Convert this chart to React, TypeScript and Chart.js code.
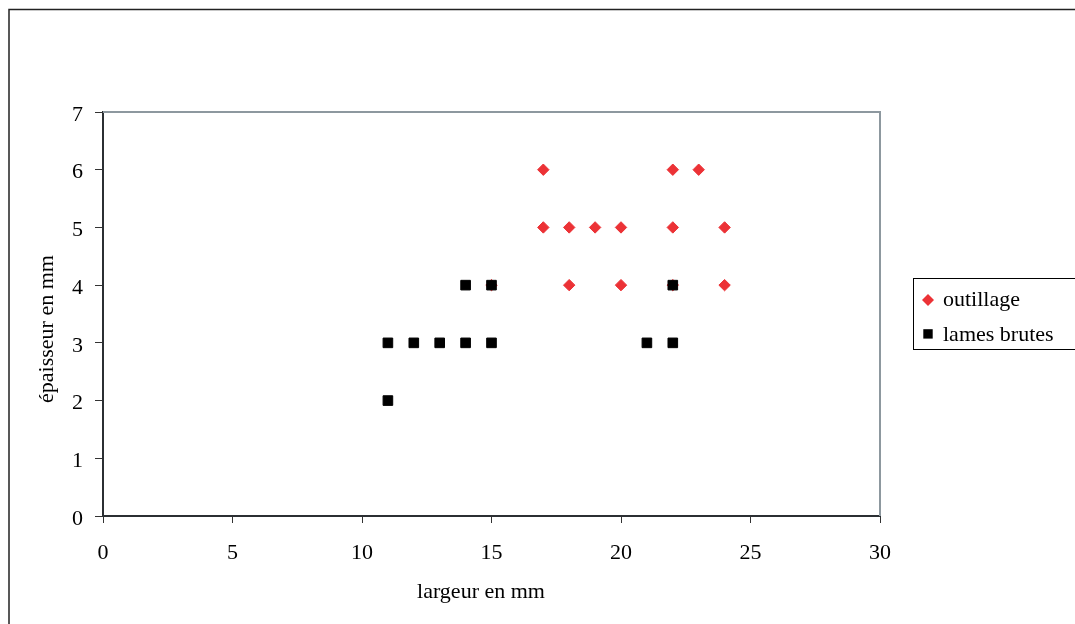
import React, { useEffect, useRef } from "react";
import { Chart, registerables } from "chart.js";

Chart.register(...registerables);

const seriesNames = ["outillage", "lames brutes"];
const outillageX = [15, 17, 17, 18, 19, 20, 18, 20, 22, 23, 22, 24, 22, 24];
const outillageY = [4, 6, 5, 5, 5, 5, 4, 4, 6, 6, 5, 5, 4, 4];
const lamesX = [11, 11, 12, 13, 14, 14, 15, 15, 21, 22, 22];
const lamesY = [3, 2, 3, 3, 3, 4, 3, 4, 3, 3, 4];
const xAxisTitle = "largeur en mm";
const yAxisTitle = "épaisseur en mm";
const xRange = [0, 30];
const yRange = [0, 7];

const RED = "#ec3236";
const BLACK = "#000000";
const FONT = '"Liberation Serif", "Times New Roman", serif';
const FS = 22;

const decor = {
  id: "decor",
  beforeDraw(chart: any) {
    const ctx = chart.ctx;
    ctx.save();
    ctx.fillStyle = "#ffffff";
    ctx.fillRect(0, 0, chart.width, chart.height);
    ctx.restore();
  },
  afterDraw(chart: any) {
    const ctx = chart.ctx;
    const { left, top, right, bottom } = chart.chartArea;
    ctx.save();
    // plot top/right border
    ctx.strokeStyle = "#8d989f";
    ctx.lineWidth = 2;
    ctx.beginPath();
    ctx.moveTo(left, top);
    ctx.lineTo(right, top);
    ctx.lineTo(right, bottom);
    ctx.stroke();
    // outer frame
    ctx.strokeStyle = "#222";
    ctx.lineWidth = 1.5;
    ctx.beginPath();
    ctx.moveTo(9, chart.height + 5);
    ctx.lineTo(9, 9.5);
    ctx.lineTo(chart.width + 5, 9.5);
    ctx.stroke();
    // titles
    ctx.fillStyle = "#000";
    ctx.font = `${FS}px ${FONT}`;
    ctx.textAlign = "center";
    ctx.textBaseline = "middle";
    ctx.fillText(xAxisTitle, 481, 592);
    ctx.save();
    ctx.translate(47, 329);
    ctx.rotate(-Math.PI / 2);
    ctx.fillText(yAxisTitle, 0, 0);
    ctx.restore();
    // legend
    ctx.strokeStyle = "#000";
    ctx.lineWidth = 1;
    ctx.strokeRect(913.5, 278.5, 200, 71);
    const ds = chart.data.datasets;
    // diamond
    ctx.fillStyle = ds[0].backgroundColor;
    ctx.beginPath();
    ctx.moveTo(928 - 6, 300);
    ctx.lineTo(928, 300 - 6);
    ctx.lineTo(928 + 6, 300);
    ctx.lineTo(928, 300 + 6);
    ctx.closePath();
    ctx.fill();
    ctx.fillStyle = ds[1].backgroundColor;
    ctx.fillRect(923.3, 329.2, 9.4, 9.4);
    ctx.fillStyle = "#000";
    ctx.textAlign = "left";
    ctx.fillText(ds[0].label, 943, 300);
    ctx.fillText(ds[1].label, 943, 335);
    ctx.restore();
  },
};

export default function App() {
  const ref = useRef<HTMLCanvasElement>(null);
  useEffect(() => {
    const canvas = ref.current;
    if (!canvas) return;
    const chart = new Chart(canvas, {
      type: "scatter",
      data: {
        datasets: [
          {
            label: seriesNames[0],
            data: outillageX.map((x, i) => ({ x, y: outillageY[i] })),
            pointStyle: "rectRot",
            pointRadius: 5.7,
            pointBorderWidth: 1,
            backgroundColor: RED,
            borderColor: RED,
            order: 1,
          },
          {
            label: seriesNames[1],
            data: lamesX.map((x, i) => ({ x, y: lamesY[i] })),
            pointStyle: "rect",
            pointRadius: 6.8,
            pointBorderWidth: 1,
            backgroundColor: BLACK,
            borderColor: BLACK,
            order: 0,
          },
        ],
      },
      options: {
        animation: false,
        responsive: false,
        devicePixelRatio: 1,
        layout: { padding: { left: 0, top: 112, right: 195, bottom: 0 } },
        plugins: { legend: { display: false }, tooltip: { enabled: false } },
        scales: {
          x: {
            type: "linear",
            min: xRange[0],
            max: xRange[1],
            afterFit(scale: any) {
              scale.height = 108;
            },
            ticks: {
              stepSize: 5,
              padding: 17,
              color: "#000",
              font: { family: FONT, size: FS },
              maxRotation: 0,
            },
            grid: {
              display: true,
              drawOnChartArea: false,
              drawTicks: true,
              tickLength: 7,
              tickColor: "#333",
            },
            border: { display: true, color: "#2b2f33", width: 2 },
          },
          y: {
            type: "linear",
            min: yRange[0],
            max: yRange[1],
            afterFit(scale: any) {
              scale.width = 103;
            },
            ticks: {
              stepSize: 1,
              padding: 12,
              labelOffset: 3,
              color: "#000",
              font: { family: FONT, size: FS },
            },
            grid: {
              display: true,
              drawOnChartArea: false,
              drawTicks: true,
              tickLength: 8,
              tickColor: "#333",
            },
            border: { display: true, color: "#2b2f33", width: 2 },
          },
        },
      },
      plugins: [decor],
    });
    return () => chart.destroy();
  }, []);
  return (
    <div style={{ position: "absolute", left: 0, top: 0, width: 1075, height: 624, overflow: "hidden" }}>
      <canvas ref={ref} width={1075} height={624} style={{ display: "block" }} />
    </div>
  );
}
